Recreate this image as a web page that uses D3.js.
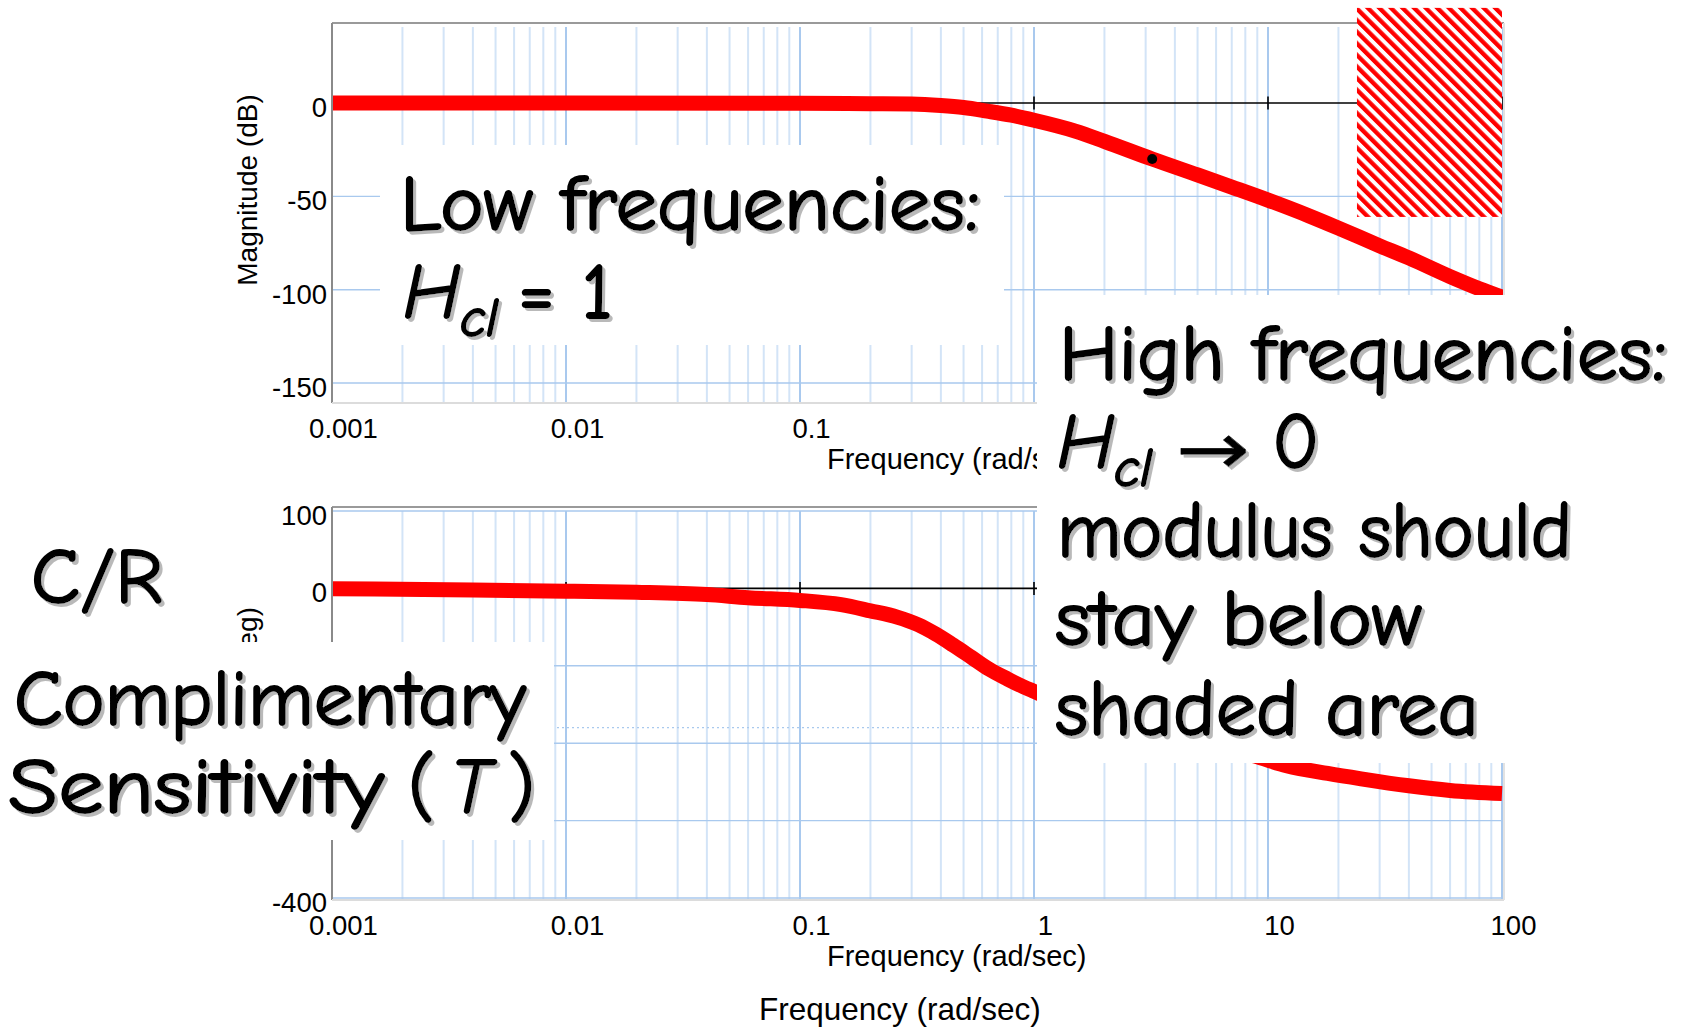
<!DOCTYPE html>
<html>
<head>
<meta charset="utf-8">
<script src="https://cdn.jsdelivr.net/npm/d3@7"></script>
<style>
  html, body { margin: 0; padding: 0; background: #fff; }
  svg { display: block; }
</style>
</head>
<body>
<svg id="chart" width="1685" height="1028"></svg>
<script>
// Frequency axis (rad/sec), shared by both Bode panels
const freqTicks = [0.001, 0.01, 0.1, 1, 10, 100];
const freqTickLabels = ["0.001", "0.01", "0.1", "1", "10", "100"];

// Magnitude panel (dB); its right-hand frequency labels sit under the callout
const magTicks = [0, -50, -100, -150];
const magTickLabels = [0, -50, -100, -150];
const magFreqLabelTicks = [0.001, 0.01, 0.1];
const magFreq = [0.001, 0.01, 0.1, 0.2, 0.3, 0.4, 0.5, 0.63, 0.8, 1, 1.5, 2, 3.2, 5, 7, 10, 15, 20, 30, 40, 60, 80, 100];
const magDb   = [0, 0, -0.1, -0.3, -0.5, -1.3, -2.4, -4.3, -6.5, -9.2, -15, -20.5, -30, -38.5, -45, -52, -60.5, -67, -76.5, -83, -93, -99.5, -104];

// Phase panel (deg)
const phaseTicks = [100, 0, -100, -200, -300, -400];
const phaseTickLabels = [100, 0, -400];
const phaseFreqLabelTicks = [0.001, 0.01, 0.1, 1, 10, 100];
const phaseFreq = [0.001, 0.004, 0.01, 0.02, 0.04, 0.06, 0.1, 0.15, 0.2, 0.26, 0.32, 0.38, 0.45, 0.54, 0.64, 0.77, 0.9, 1, 1.5, 2, 3, 4.5, 6.5, 8.6, 12, 18, 25, 40, 60, 100];
const phaseDeg  = [-0.5, -2, -3.5, -5, -8, -12, -15.5, -21, -29, -37, -47, -59, -73, -89, -104, -117, -127, -133, -155, -168, -185, -198, -208, -216, -229, -239, -246, -255, -261, -265];
const phaseRefLine = [-180];

// Marked point on the magnitude curve
const markFreq = [3.2];
const markDb = [-30];

// Forbidden high-frequency region of the magnitude plot
const zoneFreq = [24, 100];
const zoneDb = [-61, 51];

const svg = d3.select("#chart");
const x = d3.scaleLog().domain([0.001, 100]).range([332, 1502]);
const yMag = d3.scaleLinear().domain([-160.7, 42.9]).range([403, 23]);
const yPh = d3.scaleLinear().domain([-402.6, 105.2]).range([900, 507]);

const gridMinor = "#d3e4f7", gridMajor = "#a9c9ee";
const axisFont = "'Liberation Sans', Arial, sans-serif";
const comicFont = "'Comic Sans MS', 'Comic Neue', 'DejaVu Sans', sans-serif";

const isDecade = v => Math.abs(Math.log10(v) - Math.round(Math.log10(v))) < 1e-6;

const defs = svg.append("defs");

function drawPanel(y, ticks, tickLabels, freqLabelTicks, freqs, vals, opts) {
  const g = svg.append("g");
  const [x0, x1] = x.range();
  const [yb, yt] = y.range();

  // vertical log grid
  g.append("g").selectAll("line").data(x.ticks())
    .join("line")
    .attr("x1", d => x(d)).attr("x2", d => x(d))
    .attr("y1", yt + 4).attr("y2", yb)
    .attr("stroke", d => isDecade(d) ? gridMajor : gridMinor)
    .attr("stroke-width", 2);

  // horizontal grid
  g.append("g").selectAll("line").data(ticks.filter(t => t !== 0))
    .join("line")
    .attr("x1", x0).attr("x2", x1)
    .attr("y1", d => y(d)).attr("y2", d => y(d))
    .attr("stroke", gridMajor).attr("stroke-width", 1.4);

  if (opts.refLines) {
    g.append("g").selectAll("line").data(opts.refLines)
      .join("line")
      .attr("x1", x0).attr("x2", x1)
      .attr("y1", d => y(d)).attr("y2", d => y(d))
      .attr("stroke", gridMajor).attr("stroke-width", 1.2)
      .attr("stroke-dasharray", "2,3");
  }

  // zero reference line with decade ticks
  g.append("line")
    .attr("x1", x0).attr("x2", x1).attr("y1", y(0)).attr("y2", y(0))
    .attr("stroke", "#000").attr("stroke-width", 1.6);
  g.append("g").selectAll("line").data(freqTicks)
    .join("line")
    .attr("x1", d => x(d)).attr("x2", d => x(d))
    .attr("y1", y(0) - 6.5).attr("y2", y(0) + 6.5)
    .attr("stroke", "#000").attr("stroke-width", 1.6);

  // response curve
  const pts = freqs.map((f, i) => [f, vals[i]]);
  g.append("path")
    .datum(pts)
    .attr("fill", "none")
    .attr("stroke", "#ff0000")
    .attr("stroke-width", 15)
    .attr("d", d3.line().x(d => x(d[0])).y(d => y(d[1])).curve(d3.curveMonotoneX));

  // frame
  g.append("line").attr("x1", x0).attr("x2", x1 + 2).attr("y1", yt).attr("y2", yt)
    .attr("stroke", "#9a9a9a").attr("stroke-width", 2);
  g.append("line").attr("x1", x0).attr("x2", x0).attr("y1", yt).attr("y2", yb)
    .attr("stroke", "#8a8a8a").attr("stroke-width", 2);
  g.append("line").attr("x1", x0).attr("x2", x1 + 2).attr("y1", yb).attr("y2", yb)
    .attr("stroke", "#dcdcdc").attr("stroke-width", 2);
  g.append("line").attr("x1", x1 + 2).attr("x2", x1 + 2).attr("y1", yt).attr("y2", yb)
    .attr("stroke", "#e2e2e2").attr("stroke-width", 2);

  // y axis labels
  const ya = g.append("g").attr("transform", `translate(${x0},0)`)
    .call(d3.axisLeft(y).tickValues(tickLabels).tickSize(0).tickPadding(5));
  ya.select(".domain").remove();
  ya.selectAll("text").attr("dy", 13.5).attr("font-family", axisFont)
    .attr("font-size", 27.5).attr("fill", "#000")
    .text(d => d < 0 ? "-" + Math.abs(d) : String(d));

  // x axis labels
  const xa = g.append("g").attr("transform", `translate(0,${yb})`)
    .call(d3.axisBottom(x).tickValues(freqLabelTicks).tickSize(0)
      .tickFormat(d => freqTickLabels[freqTicks.indexOf(d)]));
  xa.select(".domain").remove();
  xa.selectAll("text").attr("y", 35).attr("dy", 0).attr("dx", 11)
    .attr("font-family", axisFont).attr("font-size", 27.5).attr("fill", "#000");

  g.append("text")
    .attr("x", 827).attr("y", yb + 66)
    .attr("font-family", axisFont).attr("font-size", 29)
    .text("Frequency (rad/sec)");

  g.append("text")
    .attr("transform", `translate(257,${opts.labelY}) rotate(-90)`)
    .attr("text-anchor", opts.labelAnchor)
    .attr("font-family", axisFont).attr("font-size", 28)
    .text(opts.label);
  return g;
}

const magPanel = drawPanel(yMag, magTicks, magTickLabels, magFreqLabelTicks, magFreq, magDb,
  { label: "Magnitude (dB)", labelY: 190, labelAnchor: "middle" });

magPanel.selectAll("circle.mark").data(markFreq)
  .join("circle").attr("class", "mark")
  .attr("cx", d => x(d)).attr("cy", (d, i) => yMag(markDb[i]))
  .attr("r", 5).attr("fill", "#000");

drawPanel(yPh, phaseTicks, phaseTickLabels, phaseFreqLabelTicks, phaseFreq, phaseDeg,
  { label: "Phase (deg)", labelY: 607, labelAnchor: "end", refLines: phaseRefLine });

// hatched high-frequency bound
const pat = defs.append("pattern")
  .attr("id", "hatch").attr("patternUnits", "userSpaceOnUse")
  .attr("width", 8.2).attr("height", 8.2)
  .attr("patternTransform", "rotate(-45)");
pat.append("rect").attr("width", 8.2).attr("height", 8.2).attr("fill", "#fff");
pat.append("rect").attr("width", 4.3).attr("height", 8.2).attr("fill", "#ff0000");

svg.append("rect")
  .attr("x", x(zoneFreq[0])).attr("width", x(zoneFreq[1]) - x(zoneFreq[0]))
  .attr("y", yMag(zoneDb[1])).attr("height", yMag(zoneDb[0]) - yMag(zoneDb[1]))
  .attr("fill", "url(#hatch)");

// soft grey drop shadow for the hand-lettered callouts
const shadow = defs.append("filter").attr("id", "shadow")
  .attr("x", "-5%").attr("y", "-5%").attr("width", "115%").attr("height", "115%");
shadow.append("feOffset").attr("in", "SourceAlpha").attr("dx", 3).attr("dy", 3).attr("result", "off");
shadow.append("feFlood").attr("flood-color", "#b9b9b9").attr("result", "col");
shadow.append("feComposite").attr("in", "col").attr("in2", "off").attr("operator", "in").attr("result", "sh");
const merge = shadow.append("feMerge");
merge.append("feMergeNode").attr("in", "sh");
merge.append("feMergeNode").attr("in", "SourceGraphic");

// annotation callouts: white panels with lettered notes
const notes = svg.append("g");
function box(x0, y0, x1, y1) {
  notes.append("rect").attr("x", x0).attr("y", y0)
    .attr("width", x1 - x0).attr("height", y1 - y0).attr("fill", "#fff");
}
function callout(parts) {
  const t = notes.append("text")
    .attr("font-family", comicFont).attr("font-size", 78)
    .attr("fill", "#000").attr("stroke", "#000")
    .attr("stroke-width", 1.8).attr("stroke-linejoin", "round")
    .attr("filter", "url(#shadow)");
  parts.forEach(p => {
    const s = t.append("tspan").attr("x", p.x).attr("y", p.y).text(p.t);
    if (p.size) s.attr("font-size", p.size);
    if (p.italic) s.attr("font-style", "italic");
    if (p.sw != null) s.attr("stroke-width", p.sw);
    if (p.w) s.attr("textLength", p.w).attr("lengthAdjust", "spacingAndGlyphs");
  });
}

box(380, 145, 1004, 345);
callout([
  { t: "Low frequencies:", x: 400, y: 230, w: 580 },
  { t: "H", x: 403, y: 318, italic: true },
  { t: "cl", x: 460, y: 336, size: 54, italic: true },
  { t: "= 1", x: 518, y: 318, w: 95 }
]);

box(1037, 295, 1685, 763);
callout([
  { t: "High frequencies:", x: 1059, y: 380, w: 608 },
  { t: "H", x: 1057, y: 468, italic: true },
  { t: "cl", x: 1114, y: 486, size: 54, italic: true },
  { t: "\u2192", x: 1176, y: 474, size: 72, w: 74, sw: 0.6 },
  { t: "0", x: 1272, y: 468 },
  { t: "modulus should", x: 1057, y: 557, w: 515 },
  { t: "stay below", x: 1055, y: 645, w: 367 },
  { t: "shaded area", x: 1055, y: 735, w: 424 }
]);

callout([{ t: "C/R", x: 31, y: 603, w: 132 }]);

box(0, 642, 554, 840);
callout([
  { t: "Complimentary", x: 14, y: 725, w: 512 },
  { t: "Sensitivity", x: 8, y: 813, w: 376 },
  { t: "(", x: 408, y: 813 },
  { t: "T", x: 450, y: 813, italic: true },
  { t: ")", x: 508, y: 813 }
]);

svg.append("text")
  .attr("x", 759).attr("y", 1020)
  .attr("font-family", axisFont).attr("font-size", 31.5)
  .text("Frequency (rad/sec)");
</script>
</body>
</html>
